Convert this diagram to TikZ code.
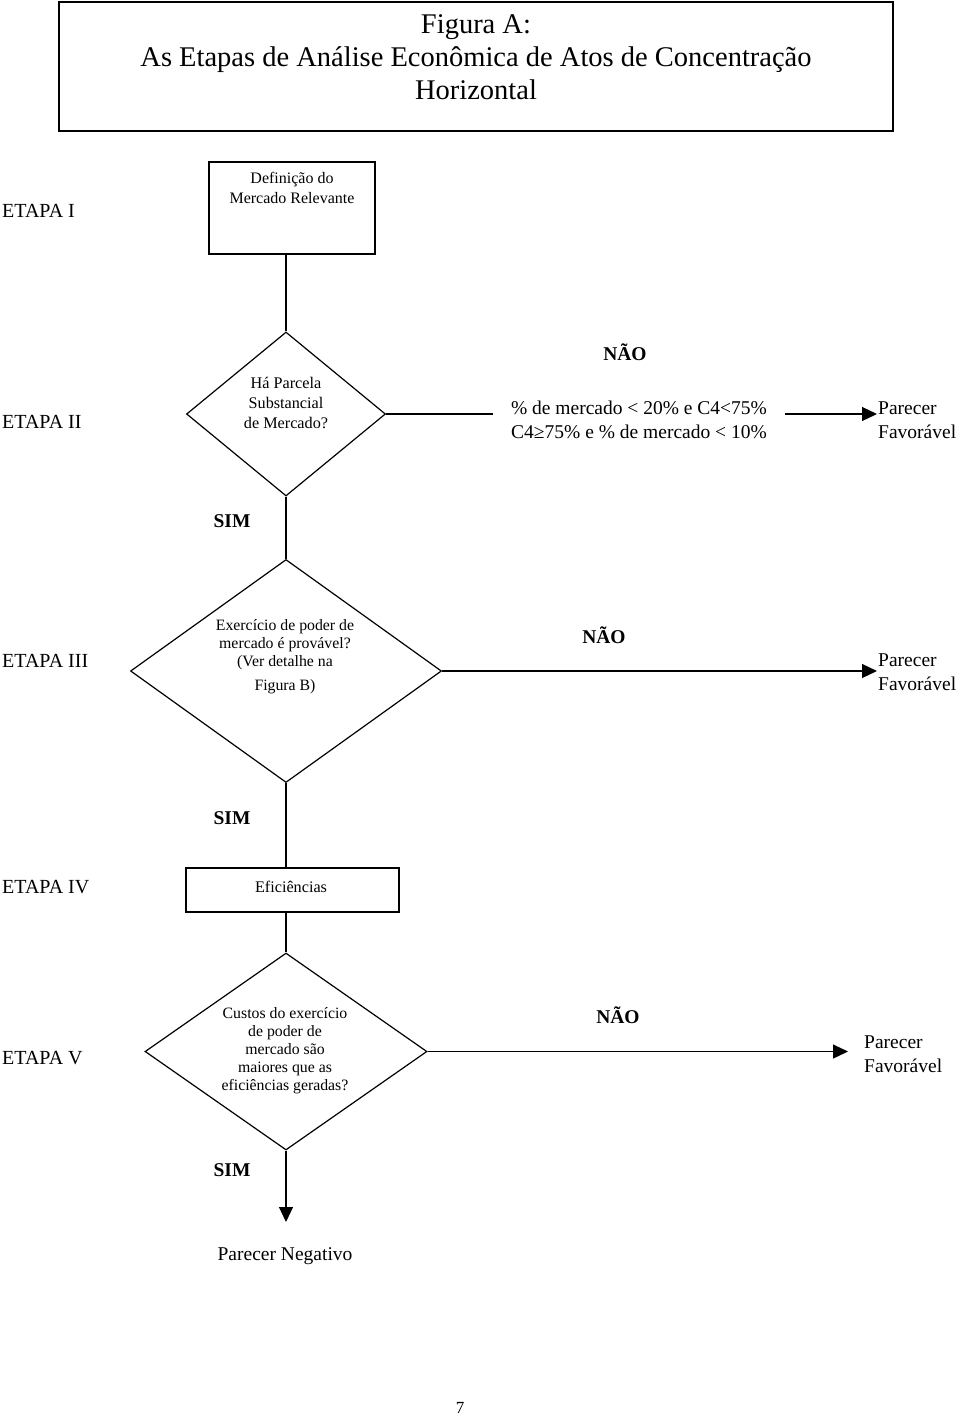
\documentclass[tikz,border=0pt]{standalone}
\usepackage{fontspec}
\setmainfont{Liberation Serif}
\usetikzlibrary{shapes.geometric,arrows.meta}
\begin{document}
\begin{tikzpicture}[x=1pt,y=-1pt,
  conn/.style={line width=1.2pt},
  arr/.style={conn,-{Triangle[length=15pt,width=14pt]}},
  dia/.style={draw,diamond,line width=1.2pt,inner sep=0pt},
  boxx/.style={draw,rectangle,line width=1.2pt,inner sep=0pt},
  small/.style={font=\fontsize{15.8}{18}\selectfont,align=center,inner sep=0pt},
  mid/.style={font=\fontsize{19.5}{24}\selectfont,align=left,inner sep=0pt},
  yesno/.style={font=\fontsize{19.5}{22}\selectfont\bfseries,inner sep=0pt},
  etapa/.style={font=\fontsize{20}{22}\selectfont,anchor=west,inner sep=0pt}
]
\useasboundingbox (0,0) rectangle (960,1416);

% title
\node[draw,line width=1.8pt,minimum width=834pt,minimum height=129pt,inner sep=0pt] (title) at (476,66.5) {};
\node[font=\fontsize{28.5}{33}\selectfont,align=center,inner sep=0pt] (titletxt) at (476,57)
  {Figura A:\\As Etapas de Análise Econômica de Atos de Concentração\\Horizontal};

% stage labels
\node[etapa] (e1) at (2,211) {ETAPA I};
\node[etapa] (e2) at (2,422) {ETAPA II};
\node[etapa] (e3) at (2,661) {ETAPA III};
\node[etapa] (e4) at (2,887) {ETAPA IV};
\node[etapa] (e5) at (2,1058) {ETAPA V};

% Etapa I
\node[boxx,minimum width=166pt,minimum height=92pt] (b1) at (292,208) {};
\node[small,font=\fontsize{16}{20}\selectfont] (b1t) at (292,188) {Definição do\\Mercado Relevante};

% Etapa II
\node[dia,minimum width=199pt,minimum height=164pt] (d2) at (286,414) {};
\node[small,font=\fontsize{16.2}{20}\selectfont] (d2t) at (286,403) {Há Parcela\\Substancial\\de Mercado?};
\node[mid,align=center,inner xsep=18pt] (cond) at (639,420) {\% de mercado < 20\% e C4<75\%\\C4≥75\% e \% de mercado < 10\%};
\node[mid,anchor=west] (pf2) at (878,420) {Parecer\\Favorável};
\node[yesno] (n2) at (625,352) {NÃO};
\node[yesno] (s2) at (232,521) {SIM};

% Etapa III
\node[dia,minimum width=311pt,minimum height=223pt] (d3) at (286,671) {};
\node[small] (d3t) at (285,657) {Exercício de poder de\\mercado é provável?\\(Ver detalhe na\\[6pt]Figura B)};
\node[mid,anchor=west] (pf3) at (878,672) {Parecer\\Favorável};
\node[yesno] (n3) at (604,635) {NÃO};
\node[yesno] (s3) at (232,818) {SIM};

% Etapa IV
\node[boxx,minimum width=213pt,minimum height=44pt] (b4) at (292.5,890) {};
\node[small,font=\fontsize{16.2}{18}\selectfont] (b4t) at (291,887) {Eficiências};

% Etapa V
\node[dia,minimum width=282pt,minimum height=197pt] (d5) at (286,1051.5) {};
\node[small] (d5t) at (285,1051) {Custos do exercício\\de poder de\\mercado são\\maiores que as\\eficiências geradas?};
\node[mid,anchor=west] (pf5) at (864,1054) {Parecer\\Favorável};
\node[yesno] (n5) at (618,1015) {NÃO};
\node[yesno] (s5) at (232,1170) {SIM};
\coordinate (negtip) at (286,1222);
\node[mid] (neg) at (285,1256) {Parecer Negativo};

\node[font=\fontsize{17}{20}\selectfont,inner sep=0pt] (pg) at (460,1408) {7};

% connectors
\draw[conn] (b1.south -| d2.north) -- (d2.north);
\draw[conn] (d2.south) -- (d3.north);
\draw[conn] (d3.south) -- (b4.north -| d3.south);
\draw[conn] (b4.south -| d5.north) -- (d5.north);
\draw[arr] (d5.south) -- (negtip);

\draw[conn] (d2.east) -- (cond.west |- d2.east);
\draw[arr] (cond.east |- d2.east) -- ([xshift=-1pt]pf2.west |- d2.east);
\draw[arr] (d3.east) -- ([xshift=-1pt]pf3.west |- d3.east);
\draw[arr] (d5.east) -- ([xshift=-16pt]pf5.west |- d5.east);
\end{tikzpicture}
\end{document}
